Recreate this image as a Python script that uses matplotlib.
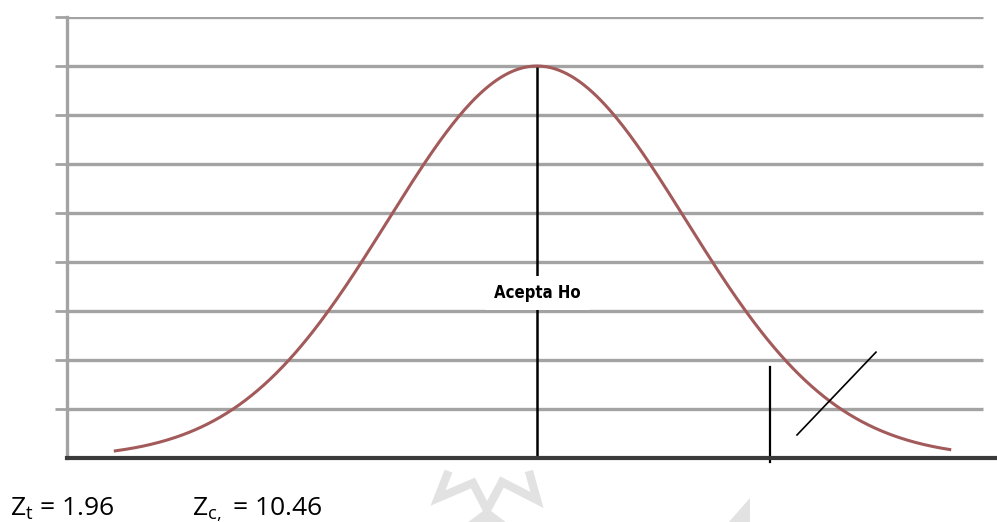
"""Normal curve sketch: acceptance region for Ho with Zt and Zc values."""
import numpy as np
import matplotlib

matplotlib.use("Agg")
import matplotlib.pyplot as plt

# data (z units, y in grid units)
grid_levels = [1, 2, 3, 4, 5, 6, 7, 8, 9]
curve_peak = 8.0
curve_range = [-2.83, 2.77]
z_critical_drawn = 1.564
z_labels = ["Z$_{\\mathregular{t}}$ = 1.96", "Z$_{\\mathregular{c,}}$ = 10.46"]
center_label = "Acepta Ho"
slash_x = [1.745, 2.275]
slash_y = [0.47, 2.16]

W, H = 997, 522
PX = 149.0   # pixels per z unit
CX = 537.0   # pixel column of z = 0
fig = plt.figure(figsize=(W / 100, H / 100), dpi=100)
ax = fig.add_axes([67 / W, (H - 458) / H, (W - 67) / W, (458 - 17) / H])

x_left = (67 - CX) / PX
x_right = (997 - CX) / PX
x_grid_end = (983 - CX) / PX
ax.set_xlim(x_left, x_right)
ax.set_ylim(0, 9)

for lv in grid_levels:
    ax.plot([x_left, x_grid_end], [lv, lv], color="#a3a3a3", lw=2.4, zorder=1,
            solid_capstyle="butt")

z = np.linspace(curve_range[0], curve_range[1], 400)
ax.plot(z, curve_peak * np.exp(-z ** 2 / 2), color="#a35a5a", lw=2.2, zorder=3)

# center line with label
ax.plot([0, 0], [0, curve_peak], color="black", lw=1.8, zorder=2)
ax.text(0, (458 - 293) / 49, center_label, ha="center", va="center",
        fontsize=12, fontweight="bold", family="DejaVu Sans",
        fontstretch="condensed",
        bbox=dict(facecolor="white", edgecolor="none", pad=6), zorder=4)

# critical value line and rejection mark
ax.plot([z_critical_drawn, z_critical_drawn], [-0.08, 1.86], color="black",
        lw=1.6, zorder=2, clip_on=False)
ax.plot(slash_x, slash_y, color="black", lw=1.2, zorder=4)

for side in ["top", "right"]:
    ax.spines[side].set_visible(False)
ax.spines["left"].set_color("#a3a3a3")
ax.spines["left"].set_linewidth(2.4)
ax.spines["bottom"].set_color("#3a3a3a")
ax.spines["bottom"].set_linewidth(3)
ax.set_yticks(grid_levels)
ax.set_yticklabels([])
ax.tick_params(axis="y", length=9, width=2, color="#a3a3a3")
ax.set_xticks([])

# faint watermark under the chart
wm = fig.add_axes([0, 0, 1, 1], zorder=-1)
wm.set_xlim(0, W)
wm.set_ylim(H, 0)
wm.axis("off")
wm.plot([447, 438, 473, 487, 502, 537, 530], [475, 498, 483, 510, 482, 500, 475],
        color="#e2e2e2", lw=6, solid_joinstyle="miter")
wm.fill([467, 487, 507], [523, 508, 523], color="#e2e2e2", lw=0)
wm.fill([728, 750, 750], [523, 498, 523], color="#e2e2e2", lw=0)

fig.text(10 / W, (H - 515) / H, z_labels[0], fontsize=19, family="Open Sans",
         color="black", va="baseline")
fig.text(192 / W, (H - 515) / H, z_labels[1], fontsize=19, family="Open Sans",
         color="black", va="baseline")

fig.savefig("out.png", dpi=100)
